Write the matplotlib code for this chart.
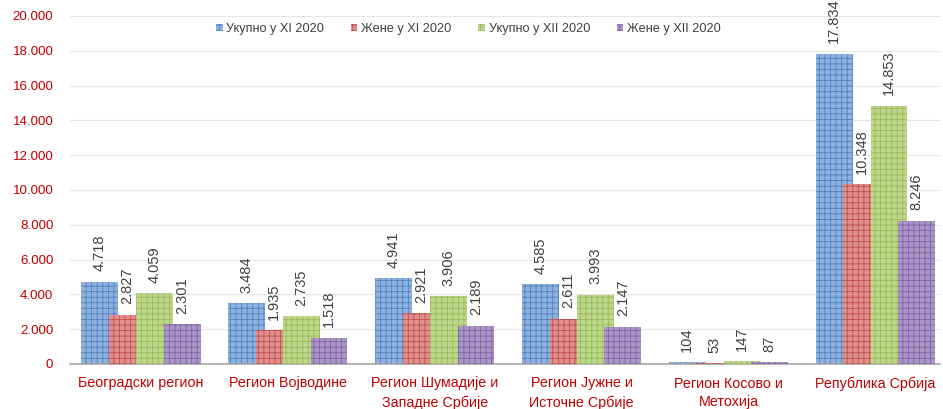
import matplotlib
matplotlib.use('Agg')
import matplotlib.pyplot as plt
import numpy as np

plt.rcParams['font.family'] = ['Liberation Sans', 'DejaVu Sans']

regions = ['Београдски регион', 'Регион Војводине', 'Регион Шумадије и\nЗападне Србије',
           'Регион Јужне и\nИсточне Србије', 'Регион Косово и\nМетохија', 'Република Србија']
series = ['Укупно у XI 2020', 'Жене у XI 2020', 'Укупно у XII 2020', 'Жене у XII 2020']
ukupno_xi = [4718, 3484, 4941, 4585, 104, 17834]
zene_xi = [2827, 1935, 2921, 2611, 53, 10348]
ukupno_xii = [4059, 2735, 3906, 3993, 147, 14853]
zene_xii = [2301, 1518, 2189, 2147, 87, 8246]

faces = ['#8fb1e0', '#e08f8d', '#bcd68c', '#ab95c6']
hatches = ['#4f81bd', '#c0504d', '#9bbb59', '#8064a2']

fig = plt.figure(figsize=(9.43, 4.09), dpi=100)
ax = fig.add_axes([70 / 943, 45 / 409, 870 / 943, 348 / 409])

x = np.arange(len(regions))
width = 0.25
step = 0.187
data = [ukupno_xi, zene_xi, ukupno_xii, zene_xii]

def fmt(v):
    return f'{v:,}'.replace(',', '.')

for i, vals in enumerate(data):
    pos = x + (i - 1.5) * step
    plt.rcParams['hatch.color'] = hatches[i]
    plt.rcParams['hatch.linewidth'] = 0.6
    bars = ax.bar(pos, vals, width, color=faces[i], hatch='+++', edgecolor=hatches[i],
                  linewidth=0, label=series[i], zorder=2 + i)
    for b, v in zip(bars, vals):
        ax.text(b.get_x() + b.get_width() / 2, v + 600, fmt(v), rotation=90,
                ha='center', va='bottom', fontsize=10.5, color='#404040', zorder=10)

ax.set_ylim(0, 20000)
ax.set_xlim(-0.483, 5.44)
ax.set_yticks(np.arange(0, 20001, 2000))
ax.set_yticklabels([fmt(v) for v in range(0, 20001, 2000)], color='#c00000', fontsize=9.6)
ax.set_xticks(x)
ax.set_xticklabels(regions, color='#c00000', fontsize=10.3, va='top', linespacing=1.45)
ax.tick_params(axis='x', length=0, pad=9)
ax.tick_params(axis='y', length=0, pad=12)
ax.grid(axis='y', color='#e6e6e6', linewidth=0.8, zorder=0)
ax.set_axisbelow(True)
for s in ['top', 'right', 'left']:
    ax.spines[s].set_visible(False)
ax.spines['bottom'].set_color('#a6a6a6')
ax.spines['bottom'].set_linewidth(1.2)

ax.legend(loc='upper center', bbox_to_anchor=(0.458, 1.012), ncol=4, frameon=False,
          fontsize=9.2, handlelength=0.5, handleheight=0.5, columnspacing=2.1,
          handletextpad=0.3, labelcolor='#404040')

fig.savefig('out.png', dpi=100)
